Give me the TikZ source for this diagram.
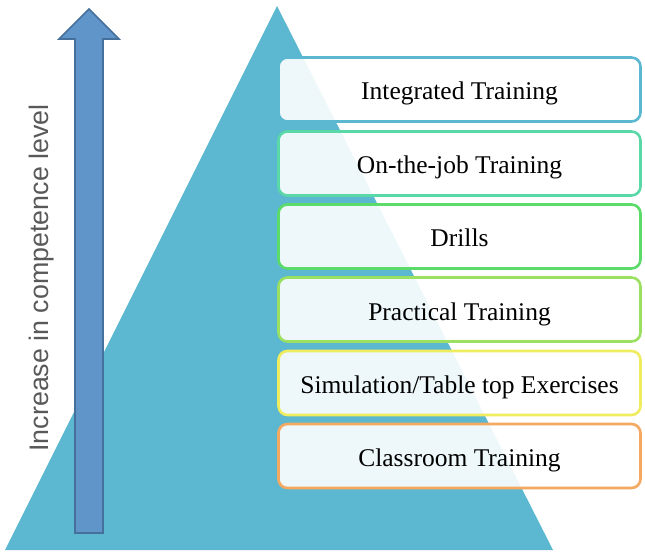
\documentclass[tikz,border=0pt]{standalone}
\usepackage{fontspec}
\setmainfont{Liberation Serif}
\setsansfont{Liberation Sans}
\begin{document}
\begin{tikzpicture}[x=1pt,y=-1pt,
  tri/.style={fill=triblue,draw=none},
  lvl/.style={draw=#1,line width=2.6pt,rounded corners=9pt,fill=white,fill opacity=0.9,text opacity=1,
    minimum width=362pt,minimum height=64pt,inner sep=0pt,text height=21pt,text depth=0pt,
    font=\fontsize{25.5}{28}\selectfont,text=black},
  arrowshape/.style={fill=arrowfill,draw=arrowdraw,line width=1.6pt,line join=miter}]
\definecolor{triblue}{HTML}{5BB8D0}
\definecolor{arrowfill}{HTML}{5F95C9}
\definecolor{arrowdraw}{HTML}{46709C}
\definecolor{c1}{HTML}{5BB8D0}
\definecolor{c2}{HTML}{5BD8A8}
\definecolor{c3}{HTML}{5ADB6A}
\definecolor{c4}{HTML}{9BE060}
\definecolor{c5}{HTML}{F0EC60}
\definecolor{c6}{HTML}{F5A860}
\definecolor{labgray}{HTML}{595959}
\useasboundingbox (0,0) rectangle (645,553);
\coordinate (apex) at (277,6);
\coordinate (bl) at (5,550);
\coordinate (br) at (553,550);
\fill[tri] (apex) -- (bl) -- (br) -- cycle;
\draw[arrowshape] (89,9) -- (119,39) -- (103,39) -- (103,533) -- (75,533) -- (75,39) -- (59,39) -- cycle;
\node[rotate=90,font=\sffamily\fontsize{26.8}{30}\selectfont,text=labgray] (lab) at (42,278) {Increase in competence level};
\node[lvl=c1] (b1) at (459.5,89.5) {Integrated Training};
\node[lvl=c2] (b2) at (459.5,163.5) {On-the-job Training};
\node[lvl=c3] (b3) at (459.5,236.5) {Drills};
\node[lvl=c4] (b4) at (459.5,309.5) {Practical Training};
\node[lvl=c5] (b5) at (459.5,383) {Simulation/Table top Exercises};
\node[lvl=c6] (b6) at (459.5,456) {Classroom Training};
\end{tikzpicture}
\end{document}
